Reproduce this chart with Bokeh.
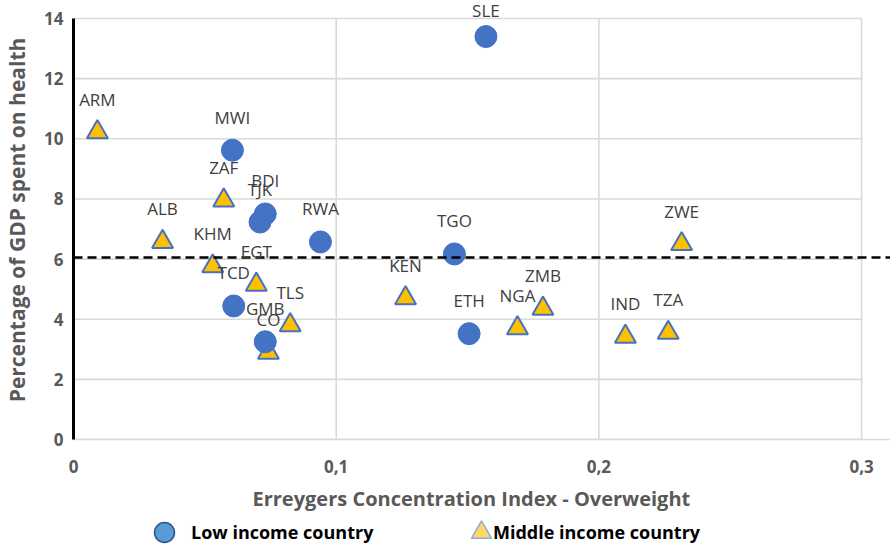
from bokeh.plotting import figure
from bokeh.layouts import column
from bokeh.models import (ColumnDataSource, Range1d, FixedTicker, LabelSet, Span,
                          Legend, LegendItem, Title)
from bokeh.core.properties import value
from bokeh.embed import file_html
from bokeh.resources import INLINE

# ---- data ----
low_codes = ["SLE", "MWI", "BDI", "TJK", "RWA", "TGO", "TCD", "GMB", "ETH"]
low_ci = [0.157, 0.0605, 0.073, 0.071, 0.094, 0.145, 0.061, 0.073, 0.1506]
low_gdp = [13.4, 9.62, 7.5, 7.23, 6.57, 6.17, 4.44, 3.25, 3.52]

mid_codes = ["ARM", "ZAF", "ALB", "KHM", "EGT", "TLS", "CO", "KEN", "NGA",
             "ZMB", "IND", "TZA", "ZWE"]
mid_ci = [0.0091, 0.0572, 0.0339, 0.053, 0.0696, 0.0825, 0.0742, 0.1264,
          0.169, 0.1787, 0.2101, 0.2264, 0.2315]
mid_gdp = [10.22, 7.95, 6.57, 5.76, 5.15, 3.8, 2.89, 4.7, 3.7, 4.35, 3.42,
           3.55, 6.5]

threshold = 6.05
x_ticks = [0, 0.1, 0.2, 0.3]
x_tick_labels = ["0", "0,1", "0,2", "0,3"]
y_ticks = [0, 2, 4, 6, 8, 10, 12, 14]

x_title = "Erreygers Concentration Index - Overweight"
y_title = "Percentage of GDP spent on health"
legend_low = "Low income country"
legend_mid = "Middle income country"

FONT = "Open Sans"
GRID = "#D9D9D9"
TXT = "#595959"

# ---- layout ----
W = 890
H_MAIN, H_LEG = 519, 27
B_LEFT, B_BOTTOM = 68, 80
X_PX_PER_UNIT = 2643.0      # horizontal pixels per unit of the index
PX_PER_UNIT = 30.07         # vertical pixels per percentage point
frame_w = W - B_LEFT
frame_h = H_MAIN - B_BOTTOM
x_right = x_ticks[0] + frame_w / X_PX_PER_UNIT
y_top = y_ticks[0] + frame_h / PX_PER_UNIT   # head-room above the top tick

p = figure(width=W, height=H_MAIN, output_backend="svg", toolbar_location=None,
           x_range=Range1d(x_ticks[0], x_right), y_range=Range1d(y_ticks[0], y_top),
           min_border_left=B_LEFT, min_border_right=0, min_border_top=0,
           min_border_bottom=B_BOTTOM)
p.outline_line_color = None
p.xgrid.visible = False
p.ygrid.visible = False

# grid lines limited to the plotting area of the original
n_y = len(y_ticks)
p.segment(x0=[x_ticks[0]] * n_y, y0=y_ticks, x1=[x_ticks[-1]] * n_y, y1=y_ticks,
          line_color=GRID, line_width=1.6)
n_x = len(x_ticks) - 1
p.segment(x0=x_ticks[1:], y0=[y_ticks[0]] * n_x, x1=x_ticks[1:], y1=[y_ticks[-1]] * n_x,
          line_color=GRID, line_width=1.6)

# axes
xa = p.xaxis[0]
xa.ticker = FixedTicker(ticks=x_ticks)
xa.major_label_overrides = {t: l for t, l in zip(x_ticks, x_tick_labels)}
xa.axis_line_color = GRID
xa.axis_line_width = 1.6
xa.major_tick_line_color = None
xa.minor_tick_line_color = None
xa.major_tick_out = 0
xa.minor_tick_out = 0
xa.major_label_standoff = 20
xa.major_label_text_font = FONT
xa.major_label_text_font_size = "17px"
xa.major_label_text_font_style = "bold"
xa.major_label_text_color = TXT

# x title centred under the grid area (0 .. 0.3) as in the original
p.add_layout(Title(text=x_title, align="left", offset=179, standoff=15,
                   text_font=FONT, text_font_size="20px", text_font_style="bold",
                   text_color=TXT), "below")

ya = p.yaxis[0]
ya.ticker = FixedTicker(ticks=y_ticks)
ya.bounds = (y_ticks[0], y_ticks[-1])
ya.axis_line_color = "black"
ya.axis_line_width = 3
ya.major_tick_line_color = None
ya.minor_tick_line_color = None
ya.major_tick_out = 0
ya.minor_tick_out = 0
ya.major_label_standoff = 10
ya.major_label_text_font = FONT
ya.major_label_text_font_size = "17px"
ya.major_label_text_font_style = "bold"
ya.major_label_text_color = TXT
ya.axis_label = y_title
ya.axis_label_standoff = 10
ya.axis_label_text_font = FONT
ya.axis_label_text_font_size = "21px"
ya.axis_label_text_font_style = "bold"
ya.axis_label_text_color = TXT

# markers
LABEL_OFF = 33


def offsets(ys):
    # labels sit above the points, pushed down when they would leave the chart
    return [min(LABEL_OFF, (y_top - y) * PX_PER_UNIT - 10) for y in ys]


mid_src = ColumnDataSource(dict(x=mid_ci, y=mid_gdp, code=mid_codes, off=offsets(mid_gdp)))
low_src = ColumnDataSource(dict(x=low_ci, y=low_gdp, code=low_codes, off=offsets(low_gdp)))
p.scatter("x", "y", source=mid_src, marker="triangle", size=21,
          fill_color="#FFC000", line_color="#4472C4", line_width=2)
p.scatter("x", "y", source=low_src, marker="circle", size=22,
          fill_color="#4472C4", line_color="#4472C4", line_width=1)

# average line
p.add_layout(Span(location=threshold, dimension="width", line_color="black",
                  line_width=2.5, line_dash="9 5"))

# data labels
for src in (mid_src, low_src):
    p.add_layout(LabelSet(x="x", y="y", text="code", source=src, y_offset="off",
                          text_align="center", text_baseline="middle",
                          text_font=value(FONT), text_font_size="17px",
                          text_color="#404040"))

# ---- legend strip below the chart ----
lg = figure(width=W, height=H_LEG, output_backend="svg", toolbar_location=None,
            x_range=Range1d(0, 1), y_range=Range1d(0, 1),
            x_axis_location=None, y_axis_location=None,
            min_border=0, min_border_left=0, min_border_right=0,
            min_border_top=0, min_border_bottom=0)
lg.outline_line_color = None
lg.xgrid.visible = False
lg.ygrid.visible = False

# legend-only renderers (kept outside the visible range of the strip)
leg_low = lg.scatter(x=[5], y=[5], marker="circle", fill_color="#5B9BD5",
                     line_color="#2F528F", line_width=1.5)
leg_mid = lg.scatter(x=[5], y=[5], marker="triangle", fill_color="#FFD966",
                     line_color="#8FAADC", line_width=1.5)
leg_none = lg.scatter(x=[5], y=[5], marker="square", fill_alpha=0, line_alpha=0)


def make_legend(label, rend, loc, gw, gh, standoff):
    return Legend(items=[LegendItem(label=label, renderers=[rend])],
                  location=loc, orientation="horizontal",
                  glyph_width=gw, glyph_height=gh, label_standoff=standoff,
                  padding=0, margin=0, border_line_color=None,
                  background_fill_alpha=0, label_text_font=FONT,
                  label_text_font_size="18px", label_text_font_style="bold",
                  label_text_color="black")


lg.add_layout(make_legend(legend_low, leg_low, (66, -11), 50, 50, 2), "center")
# the middle-income symbol sits close to its text, so symbol and text are placed separately
lg.add_layout(make_legend(" ", leg_mid, (383, -11), 50, 50, 0), "center")
lg.add_layout(make_legend(legend_mid, leg_none, (410, -11), 10, 50, 0), "center")

layout = column(p, lg, spacing=0)
open("out.html", "w").write(file_html(layout, INLINE))
